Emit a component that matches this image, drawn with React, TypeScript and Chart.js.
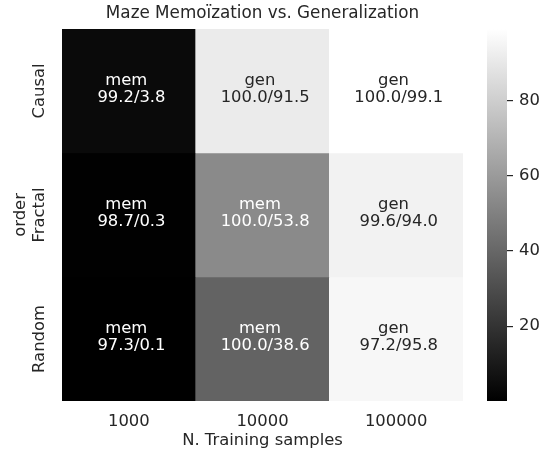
import React, { useEffect, useRef } from "react";
import { Chart, registerables } from "chart.js";

Chart.register(...registerables);

const rowLabels = ["Causal", "Fractal", "Random"];
const colLabels = ["1000", "10000", "100000"];
const trainAcc = [
  [99.2, 100.0, 100.0],
  [98.7, 100.0, 99.6],
  [97.3, 100.0, 97.2],
];
const testAcc = [
  [3.8, 91.5, 99.1],
  [0.3, 53.8, 94.0],
  [0.1, 38.6, 95.8],
];
const regimeLabels = [
  ["mem", "gen", "gen"],
  ["mem", "mem", "gen"],
  ["mem", "mem", "gen"],
];
const colorbarTicks = [20, 40, 60, 80];

const TEXT = "#262626";
const FONT = "'DejaVu Sans', sans-serif";
const FS = 16.4;

const allTest = testAcc.flat();
const vMin = Math.min(...allTest);
const vMax = Math.max(...allTest);

function grayFor(v: number): string {
  const t = Math.max(0, Math.min(1, (v - vMin) / (vMax - vMin)));
  const g = Math.round(t * 255);
  return `rgb(${g},${g},${g})`;
}
function lum(v: number): number {
  const t = Math.max(0, Math.min(1, (v - vMin) / (vMax - vMin)));
  return t <= 0.03928 ? t / 12.92 : Math.pow((t + 0.055) / 1.055, 2.4);
}

export default function App() {
  const mainRef = useRef<HTMLCanvasElement>(null);
  const cbRef = useRef<HTMLCanvasElement>(null);

  useEffect(() => {
    const annotPlugin = {
      id: "annot",
      afterDatasetsDraw(chart: any) {
        const { ctx, scales } = chart;
        const xs = scales.x;
        const ys = scales.y;
        ctx.save();
        ctx.font = `${FS}px ${FONT}`;
        ctx.textAlign = "center";
        ctx.textBaseline = "middle";
        rowLabels.forEach((_, r) => {
          colLabels.forEach((_c, c) => {
            const x = xs.getPixelForValue(c);
            const y = ys.getPixelForValue(r + 0.5);
            ctx.fillStyle = lum(testAcc[r][c]) < 0.408 ? "#ffffff" : TEXT;
            ctx.fillText(`${regimeLabels[r][c]} `, x, y - 10.3);
            ctx.fillText(` ${trainAcc[r][c].toFixed(1)}/${testAcc[r][c].toFixed(1)}`, x, y + 6.4);
          });
        });
        ctx.fillStyle = TEXT;
        rowLabels.forEach((lab, r) => {
          const y = ys.getPixelForValue(r + 0.5);
          ctx.save();
          ctx.translate(39.5, y);
          ctx.rotate(-Math.PI / 2);
          ctx.fillText(lab, 0, 0);
          ctx.restore();
        });
        ctx.restore();
      },
    };

    const main = new Chart(mainRef.current!, {
      type: "bar",
      data: {
        labels: colLabels,
        datasets: rowLabels.map((lab, r) => ({
          label: lab,
          data: colLabels.map(() => [r, r + 1]) as any,
          backgroundColor: colLabels.map((_, c) => grayFor(testAcc[r][c])),
          borderWidth: 0,
          barPercentage: 1,
          categoryPercentage: 1,
          grouped: false,
        })),
      },
      options: {
        responsive: false,
        animation: false,
        layout: { padding: { left: 0, right: 77, top: 0, bottom: 0 } },
        plugins: {
          legend: { display: false },
          tooltip: { enabled: false },
          title: {
            display: true,
            text: "Maze Memoïzation vs. Generalization",
            color: TEXT,
            fullSize: false,
            font: { family: FONT, size: 16.8, weight: "normal" },
            padding: { top: 4, bottom: 4.8 },
          },
        },
        scales: {
          x: {
            type: "category",
            offset: true,
            grid: { display: false, drawTicks: false },
            border: { display: false },
            ticks: { color: TEXT, font: { family: FONT, size: FS }, padding: 10.5 },
            title: {
              display: true,
              text: "N. Training samples",
              color: TEXT,
              font: { family: FONT, size: FS },
              padding: { top: 0, bottom: 3.5 },
            },
            afterFit: (s: any) => {
              s.height = 53;
            },
          },
          y: {
            type: "linear",
            min: 0,
            max: rowLabels.length,
            reverse: true,
            grid: { display: false, drawTicks: false },
            border: { display: false },
            ticks: { display: false },
            title: {
              display: true,
              text: "order",
              color: TEXT,
              font: { family: FONT, size: FS },
              padding: { top: 10.5, bottom: 0 },
            },
            afterFit: (s: any) => {
              s.width = 62;
            },
          },
        },
      },
      plugins: [annotPlugin],
    });

    const gradPlugin = {
      id: "grad",
      beforeDatasetsDraw(chart: any) {
        const { ctx, chartArea, scales } = chart;
        const ys = scales.y;
        const g = ctx.createLinearGradient(0, ys.getPixelForValue(vMin), 0, ys.getPixelForValue(vMax));
        g.addColorStop(0, grayFor(vMin));
        g.addColorStop(1, grayFor(vMax));
        ctx.save();
        ctx.fillStyle = g;
        ctx.fillRect(chartArea.left, chartArea.top, chartArea.right - chartArea.left, chartArea.bottom - chartArea.top);
        ctx.restore();
      },
    };

    const cb = new Chart(cbRef.current!, {
      type: "scatter",
      data: { datasets: [{ data: [] }] },
      options: {
        responsive: false,
        animation: false,
        layout: { padding: { left: 487, right: 0, top: 29, bottom: 53 } },
        plugins: { legend: { display: false }, tooltip: { enabled: false } },
        scales: {
          x: { display: false, min: 0, max: 1 },
          y: {
            type: "linear",
            position: "right",
            min: vMin,
            max: vMax,
            grid: { display: true, drawOnChartArea: false, drawTicks: true, tickLength: 6, color: TEXT, lineWidth: 1.2 },
            border: { display: false },
            ticks: { color: TEXT, font: { family: FONT, size: FS }, padding: 6 },
            afterBuildTicks: (s: any) => {
              s.ticks = colorbarTicks.map((v) => ({ value: v }));
            },
            afterFit: (s: any) => {
              s.width = 33;
            },
          },
        },
      },
      plugins: [gradPlugin],
    });

    return () => {
      main.destroy();
      cb.destroy();
    };
  }, []);

  return (
    <div style={{ position: "absolute", left: 0, top: 0, width: 540, height: 454, background: "#fff" }}>
      <canvas ref={mainRef} width={540} height={454} style={{ position: "absolute", left: 0, top: 0 }} />
      <canvas ref={cbRef} width={540} height={454} style={{ position: "absolute", left: 0, top: 0, pointerEvents: "none" }} />
    </div>
  );
}
